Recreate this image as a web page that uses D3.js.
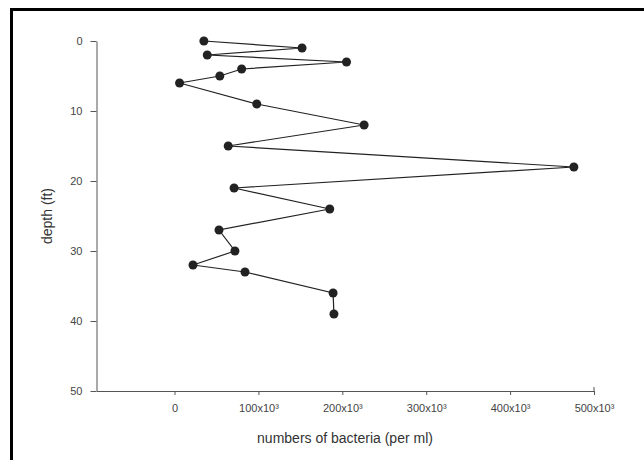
<!DOCTYPE html>
<html>
<head>
<meta charset="utf-8">
<style>
  body { margin: 0; background: #fff; }
  svg { display: block; }
</style>
</head>
<body>
<svg width="644" height="460"></svg>
<script src="https://cdn.jsdelivr.net/npm/d3@7"></script>
<script>

// bacteria count per ml at each sampled depth (ft)
var depths = [0, 1, 2, 3, 4, 5, 6, 9, 12, 15, 18, 21, 24, 27, 30, 32, 33, 36, 39];
var counts = [35000, 152000, 39000, 205000, 80000, 54000, 6000, 98000, 226000, 64000,
              476000, 71000, 185000, 53000, 72000, 22000, 84000, 189000, 190000];

var xTicks = [0, 100000, 200000, 300000, 400000, 500000];
var xTickLabels = ["0", "100x10\u00b3", "200x10\u00b3", "300x10\u00b3", "400x10\u00b3", "500x10\u00b3"];
var yTicks = [0, 10, 20, 30, 40, 50];

var svg = d3.select("svg"),
    margin = {top: 41, right: 50, bottom: 69, left: 96.5},
    width = svg.attr("width") - margin.left - margin.right,
    height = svg.attr("height") - margin.top - margin.bottom;

var x = d3.scaleLinear().domain([-93000, 500000]).range([0, width]),
    y = d3.scaleLinear().domain([0, 50]).range([0, height]);

var data = depths.map(function(d, i) { return {depth: d, count: counts[i]}; });

// scanned-page frame, top and left only
svg.append("path")
    .attr("d", "M11.5,644V9.5H644")
    .attr("fill", "none")
    .attr("stroke", "#000")
    .attr("stroke-width", 3);

var g = svg.append("g")
    .attr("transform", "translate(" + margin.left + "," + margin.top + ")");

var xAxis = g.append("g")
    .attr("transform", "translate(0," + height + ")")
    .call(d3.axisBottom(x)
        .tickValues(xTicks)
        .tickFormat(function(d, i) { return xTickLabels[i]; })
        .tickSize(4)
        .tickSizeOuter(0)
        .tickPadding(9));

var yAxis = g.append("g")
    .call(d3.axisLeft(y)
        .tickValues(yTicks)
        .tickSize(6)
        .tickSizeOuter(0)
        .tickPadding(8));

[xAxis, yAxis].forEach(function(a) {
  a.selectAll("path, line").attr("stroke", "#555");
  a.selectAll("text")
      .style("font", "11px 'Liberation Sans', Arial, sans-serif")
      .attr("fill", "#444");
});

// little end tick at the right end of the x axis
g.append("line")
    .attr("x1", x(500000)).attr("x2", x(500000))
    .attr("y1", height).attr("y2", height - 4)
    .attr("stroke", "#555");

var line = d3.line()
    .x(function(d) { return x(d.count); })
    .y(function(d) { return y(d.depth); });

g.append("path")
    .datum(data)
    .attr("fill", "none")
    .attr("stroke", "#222")
    .attr("stroke-width", 1.2)
    .attr("d", line);

g.selectAll(".dot")
    .data(data)
  .enter().append("circle")
    .attr("class", "dot")
    .attr("cx", function(d) { return x(d.count); })
    .attr("cy", function(d) { return y(d.depth); })
    .attr("r", 4.5)
    .attr("fill", "#222");

svg.append("text")
    .attr("x", 345)
    .attr("y", 443)
    .attr("text-anchor", "middle")
    .attr("fill", "#333")
    .style("font", "14px 'Liberation Sans', Arial, sans-serif")
    .text("numbers of bacteria (per ml)");

svg.append("text")
    .attr("transform", "translate(52,216) rotate(-90)")
    .attr("text-anchor", "middle")
    .attr("fill", "#333")
    .style("font", "14px 'Liberation Sans', Arial, sans-serif")
    .text("depth (ft)");

</script>
</body>
</html>
